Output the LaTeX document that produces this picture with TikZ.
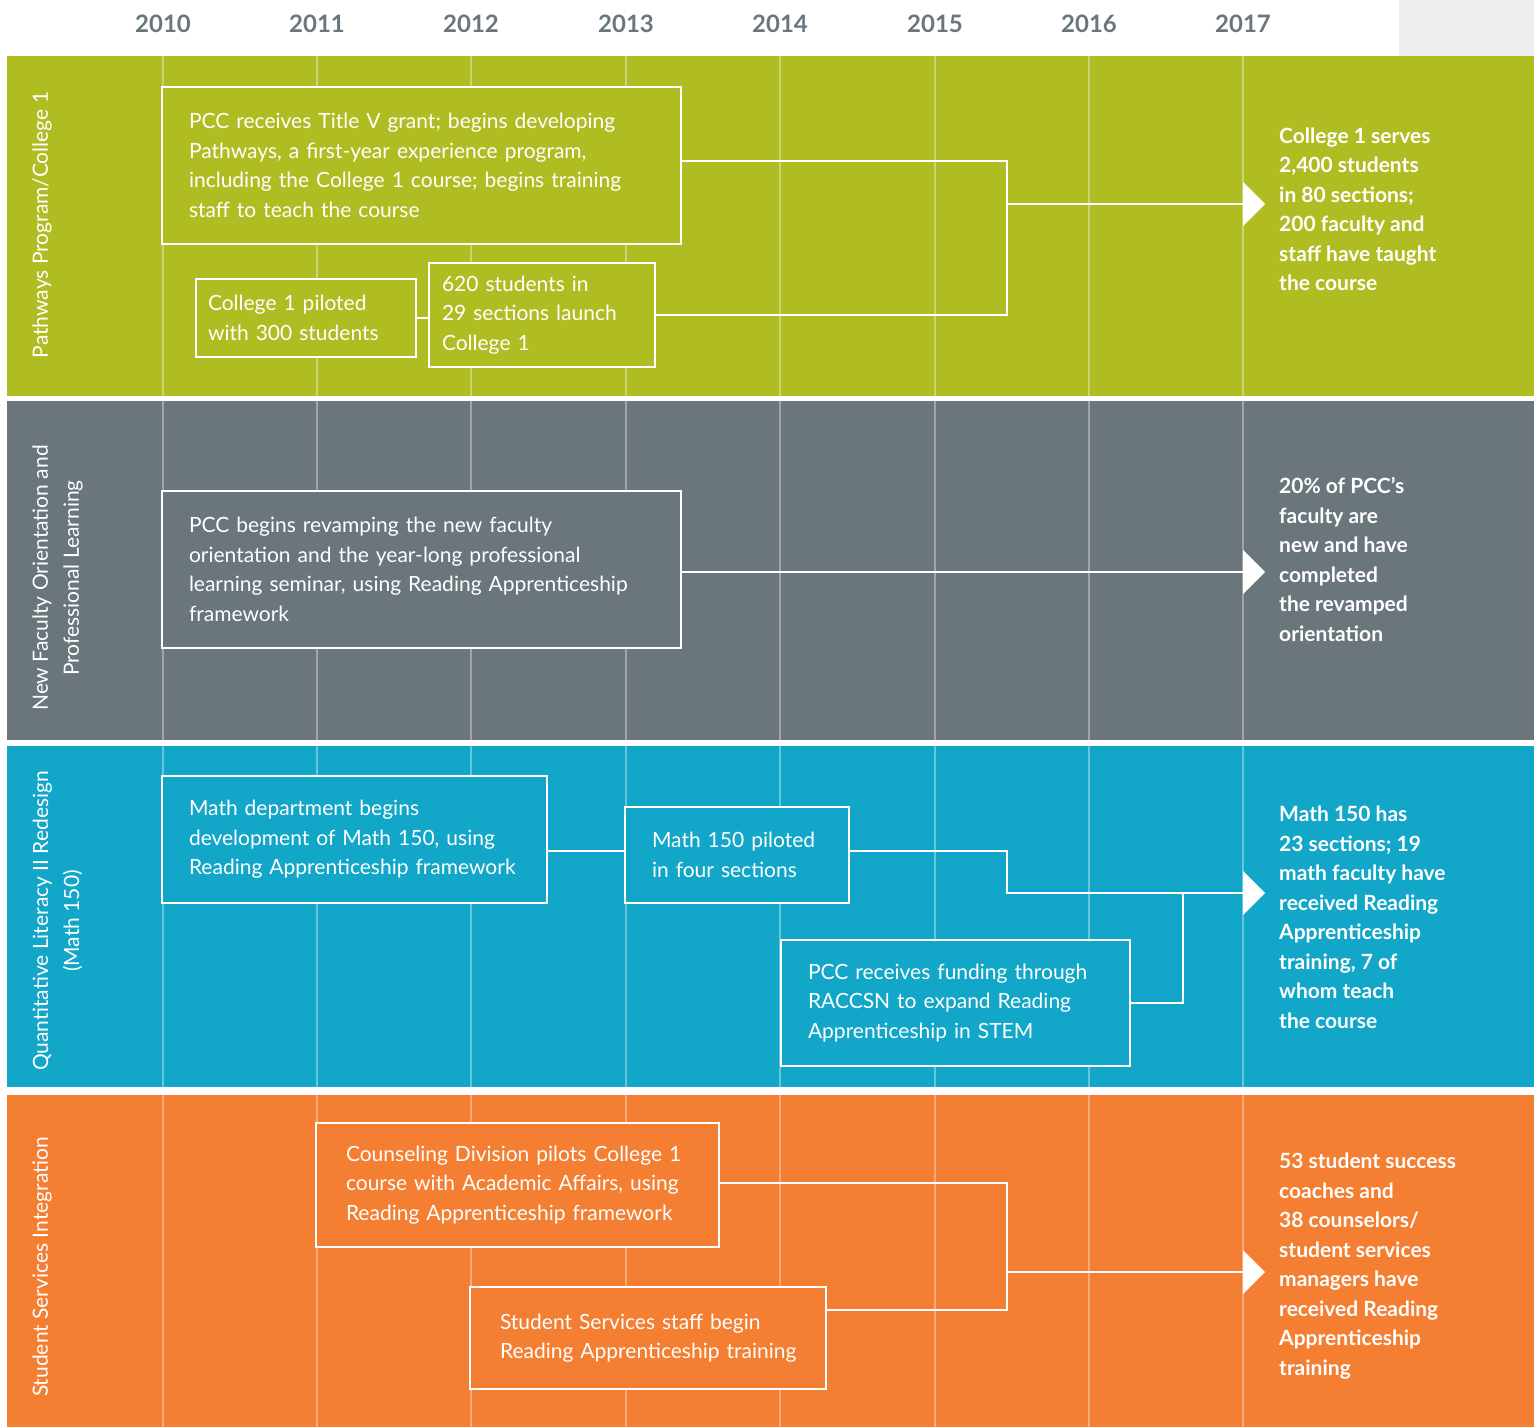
\documentclass[tikz,border=0pt]{standalone}
\usepackage{fontspec}
\setmainfont{Lato}
\definecolor{bgreen}{HTML}{AFBD22}
\definecolor{bgrey}{HTML}{6B757C}
\definecolor{bblue}{HTML}{12A6C8}
\definecolor{borange}{HTML}{F47E32}
\definecolor{ygrey}{HTML}{6B757C}
\definecolor{corner}{HTML}{EDEDF0}
\begin{document}
\begin{tikzpicture}[x=1pt,y=-1pt,
  box/.style={draw=white, line width=2.6pt, text=white, align=left, anchor=center,
    font=\fontsize{21}{29.5}\selectfont, inner ysep=0pt},
  conn/.style={draw=white, line width=2.6pt},
  gridl/.style={draw=white, draw opacity=0.35, line width=1.2pt},
  outc/.style={text=white, anchor=west, align=left, inner sep=0pt,
    font=\bfseries\fontsize{21}{29.5}\selectfont},
  lane/.style={text=white, rotate=90, align=center, inner sep=0pt,
    font=\fontsize{21}{31}\selectfont},
  year/.style={text=ygrey, inner sep=0pt, font=\bfseries\fontsize{24}{28}\selectfont},
  tip/.style={fill=white}]
\useasboundingbox (0,0) rectangle (1534,1427);
\fill[white] (0,0) rectangle (1534,1427);
\fill[corner] (1399,0) rectangle (1534,56);

% bands
\fill[bgreen] (7,56) rectangle (1534,396);
\fill[bgrey] (7,401) rectangle (1534,740);
\fill[bblue] (7,746) rectangle (1534,1087);
\fill[borange] (7,1095) rectangle (1534,1427);

% grid lines
\foreach \gx in {163,317,471,626,780,935,1089,1243}{
  \draw[gridl] (\gx,56) -- (\gx,396);
  \draw[gridl] (\gx,401) -- (\gx,740);
  \draw[gridl] (\gx,746) -- (\gx,1087);
  \draw[gridl] (\gx,1095) -- (\gx,1427);
}

% years
\foreach \gx/\yr in {163/2010,317/2011,471/2012,626/2013,780/2014,935/2015,1089/2016,1243/2017}{
  \node[year] (y\yr) at (\gx,24) {\yr};
}

% lane labels
\node[lane] (l1) at (42,225) {Pathways Program/College 1};
\node[lane] (l2) at (57.5,578) {New Faculty Orientation and\\Professional Learning};
\node[lane] (l3) at (57.5,921) {Quantitative Literacy II Redesign\\(Math 150)};
\node[lane] (l4) at (42,1267) {Student Services Integration};

% ---- green band
\node[box, fill=bgreen, text width=465pt, inner xsep=27pt, minimum height=157pt] (A) at (421.5,165.5)
  {PCC receives Title V grant; begins developing\\Pathways, a first-year experience program,\\including the College 1 course; begins training\\staff to teach the course};
\node[box, fill=bgreen, text width=196pt, inner xsep=12pt, minimum height=78pt] (B) at (306,318)
  {College 1 piloted\\with 300 students};
\node[box, fill=bgreen, text width=200pt, inner xsep=13pt, minimum height=104pt] (C) at (542,315)
  {620 students in\\29 sections launch\\College 1};
\coordinate (g1) at (1007,161);
\coordinate (g2) at (1007,315);
\coordinate (g3) at (1007,204);
\coordinate (t1) at (1243,204);
\draw[conn] ([yshift=4.5pt]A.east) -- (g1) -- (g2) -- (C.east);
\draw[conn] (B.east) -- (B.east -| C.west);
\draw[conn] (g3) -- (t1);
\fill[tip] (t1) ++(0,-22) -- ++(22,22) -- ++(-22,22) -- cycle;
\node[outc] (o1) at (1279,209.5)
  {College 1 serves\\2,400 students\\in 80 sections;\\200 faculty and\\staff have taught\\the course};

% ---- grey band
\node[box, fill=bgrey, text width=465pt, inner xsep=27pt, minimum height=157pt] (G) at (421.5,569.5)
  {PCC begins revamping the new faculty\\orientation and the year-long professional\\learning seminar, using Reading Apprenticeship\\framework};
\coordinate (t2) at (1243,572);
\draw[conn] ([yshift=-2.5pt]G.east) -- (t2);
\fill[tip] (t2) ++(0,-22) -- ++(22,22) -- ++(-22,22) -- cycle;
\node[outc] (o2) at (1279,559.5)
  {20\% of PCC’s\\faculty are\\new and have\\completed\\the revamped\\orientation};

% ---- blue band
\node[box, fill=bblue, text width=331pt, inner xsep=27pt, minimum height=127pt] (M1) at (354.5,839.5)
  {Math department begins\\development of Math 150, using\\Reading Apprenticeship framework};
\node[box, fill=bblue, text width=170pt, inner xsep=27pt, minimum height=96pt] (M2) at (737,855)
  {Math 150 piloted\\in four sections};
\node[box, fill=bblue, text width=295pt, inner xsep=27pt, minimum height=126pt] (M3) at (955.5,1003)
  {PCC receives funding through\\RACCSN to expand Reading\\Apprenticeship in STEM};
\coordinate (b1) at (1007,851);
\coordinate (b2) at (1007,893);
\coordinate (b3) at (1183,1003);
\coordinate (b4) at (1183,893);
\coordinate (t3) at (1243,893);
\draw[conn] ([yshift=4pt]M2.west -| M1.east) -- ([yshift=4pt]M2.west);
\draw[conn] ([yshift=4pt]M2.east) -- (b1) -- (b2) -- (t3);
\draw[conn] (M3.east) -- (b3) -- (b4);
\fill[tip] (t3) ++(0,-22) -- ++(22,22) -- ++(-22,22) -- cycle;
\node[outc] (o3) at (1279,917.5)
  {Math 150 has\\23 sections; 19\\math faculty have\\received Reading\\Apprenticeship\\training, 7 of\\whom teach\\the course};

% ---- orange band
\node[box, fill=borange, text width=343pt, inner xsep=30pt, minimum height=124pt] (O1) at (517.5,1185)
  {Counseling Division pilots College 1\\course with Academic Affairs, using\\Reading Apprenticeship framework};
\node[box, fill=borange, text width=296pt, inner xsep=30pt, minimum height=102pt] (O2) at (648,1338)
  {\mbox{Student Services staff begin}\\\mbox{Reading Apprenticeship training}};
\coordinate (r1) at (1007,1183);
\coordinate (r2) at (1007,1310);
\coordinate (r3) at (1007,1272);
\coordinate (t4) at (1243,1272);
\draw[conn] ([yshift=2pt]O1.east) -- (r1) -- (r2) -- ([yshift=28pt]O2.east);
\draw[conn] (r3) -- (t4);
\fill[tip] (t4) ++(0,-22) -- ++(22,22) -- ++(-22,22) -- cycle;
\node[outc] (o4) at (1279,1266)
  {53 student success\\coaches and\\38 counselors/\\student services\\managers have\\received Reading\\Apprenticeship\\training};
\end{tikzpicture}
\end{document}
